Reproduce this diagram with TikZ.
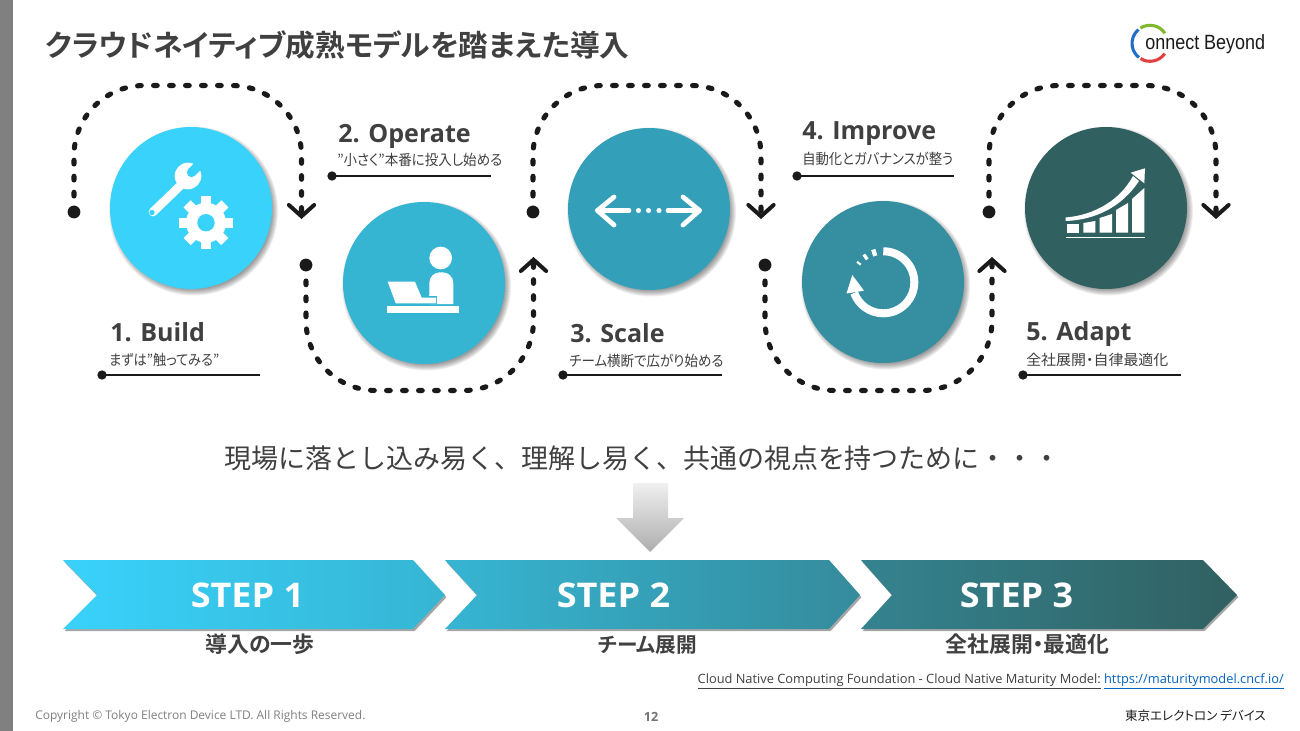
\documentclass[tikz,border=0pt]{standalone}
\usepackage{fontspec}
\usetikzlibrary{arrows.meta,calc}
\setmainfont{Open Sans}
\newfontfamily\jpfont[RawFeature=+palt,BoldFont={Noto Sans CJK JP Bold}]{Noto Sans CJK JP}
\newfontfamily\jpfull{Noto Sans CJK JP}
\newfontfamily\logofont{Liberation Sans}
\newcommand{\fsz}[1]{\fontsize{#1}{#1}\selectfont}
\newcommand{\narrowed}[2]{\scalebox{#1}[1]{#2}}
\definecolor{ink}{HTML}{404040}
\definecolor{blk}{HTML}{1A1A1A}
\definecolor{cA}{HTML}{39D2FB}
\definecolor{cB}{HTML}{36B5D3}
\definecolor{cC}{HTML}{349FB8}
\definecolor{cD}{HTML}{358FA0}
\definecolor{cE}{HTML}{316060}
\tikzset{
  disc/.style={circle,minimum size=121.5pt,inner sep=0pt,draw=none},
  bigdot/.style={circle,fill=blk,minimum size=9.6pt,inner sep=0pt},
  smalldot/.style={circle,fill=blk,minimum size=7pt,inner sep=0pt},
  dashline/.style={draw=blk,line width=3.8pt,line cap=round,rounded corners=52.5pt,
     dash pattern=on 2.8pt off 9.2pt,
     -{Straight Barb[length=8.5pt,width=19pt,line width=3pt,line cap=round]}},
  rule/.style={draw=blk,line width=1.5pt},
  head/.style={font=\fsz{18.8pt}\bfseries,text=ink,anchor=base west,inner sep=0pt},
  sub/.style={font=\jpfont\fsz{11pt},text=ink,anchor=base west,inner sep=0pt},
  stepl/.style={font=\fsz{25.5pt}\bfseries,text=white,anchor=base,inner sep=0pt},
  stepc/.style={font=\jpfont\fsz{16.4pt}\bfseries,text=ink,anchor=base,inner sep=0pt},
}
\newcommand{\discshadow}[2]{%
  \foreach \r in {84.5,83.5,82.5,81.5,80.5,79.5,78.5}
    \fill[black,opacity=.065] (#1+2.5,#2+3) circle[radius=\r*.75pt];}
\def\pieceA{(63,560)--(413,560)--(445,595)--(413,629)--(63,629)--(97,595)--cycle}
\def\pieceB{(445,560)--(829,560)--(860,595)--(829,629)--(445,629)--(477,595)--cycle}
\def\pieceC{(861,560)--(1203,560)--(1237,595)--(1203,629)--(861,629)--(892,595)--cycle}
\begin{document}
\begin{tikzpicture}[x=.75pt,y=-.75pt]
\useasboundingbox (0,0) rectangle (1300,731);
\fill[white] (0,0) rectangle (1300,731);
\fill[black!50] (0,0) rectangle (13,731);

% title
\node[font=\jpfont\fsz{22.27pt}\bfseries,text=ink,anchor=base west,inner sep=0pt] (title) at (45,57) {クラウドネイティブ成熟モデルを踏まえた導入};

% logo
\coordinate (lg) at (1150,43.3);
\definecolor{lgB}{HTML}{1F6FC4}
\definecolor{lgG}{HTML}{7FB82A}
\definecolor{lgR}{HTML}{E2403F}
\draw[line width=2.3pt,color=lgB] ([shift={(130:13.5pt)}]lg) arc[start angle=130,end angle=232,radius=13.5pt];
\draw[line width=2.3pt,color=lgG] ([shift={(122:13.5pt)}]lg) arc[start angle=122,end angle=34,radius=13.5pt];
\draw[line width=2.3pt,color=lgR] ([shift={(238:13.5pt)}]lg) arc[start angle=238,end angle=325,radius=13.5pt];
\node[font=\logofont\fsz{15.5pt},text=blk,anchor=base west,inner sep=0pt] (logo) at (1145,49.5) {\narrowed{.87}{onnect Beyond}};

% discs
\discshadow{191}{208}
\discshadow{424}{283}
\discshadow{649}{209}
\discshadow{883}{282}
\discshadow{1106}{208}
\node[disc,fill=cA] (c1) at (191,208) {};
\node[disc,fill=cB] (c2) at (424,283) {};
\node[disc,fill=cC] (c3) at (649,209) {};
\node[disc,fill=cD] (c4) at (883,282) {};
\node[disc,fill=cE] (c5) at (1106,208) {};

% wrench and gear
\coordinate (g) at (206,222.7);
\foreach \a in {0,45,...,315}
  \draw[white,line width=7.5pt] (g) -- ([shift={(\a:20pt)}]g);
\fill[white] (g) circle[radius=15pt];
\fill[cA] (g) circle[radius=6.5pt];
\draw[white,line width=6.5pt,line cap=round] (153,212) -- (182,184);
\fill[white] (188,176) circle[radius=10pt];
\draw[cA,line width=7pt] (191.5,172.5) -- (206,158);
\fill[cA] (191.5,172.5) circle[radius=3.5pt];
\fill[cA] (152,212.5) circle[radius=2pt];

% person at laptop
\fill[white] (440.7,258) circle[radius=8.5pt];
\fill[white,rounded corners=8pt] (429.3,304) -- (429.3,272.3) -- (453.3,272.3) -- (453.3,304);
\fill[white] (429.3,295) rectangle (453.3,303.5);
\fill[cB] (428,296) rectangle (437.3,304);
\fill[white] (387.7,281.7) -- (415,281.7) -- (421.7,297.7) -- (436,297.7) -- (436,303.3) -- (395.7,303.3) -- cycle;
\fill[white] (387.3,306) rectangle (459,313);

% two-way arrow
\draw[white,line width=3.6pt,line cap=round,line join=round] (614,197) -- (597.5,210.5) -- (614,225);
\draw[white,line width=3.6pt,line cap=round] (597.5,210.5) -- (629,210.5);
\draw[white,line width=3.6pt,line cap=round,line join=round] (683,197) -- (699.5,210.5) -- (683,225);
\draw[white,line width=3.6pt,line cap=round] (668,210.5) -- (699.5,210.5);
\foreach \x in {638.5,648.5,659} \fill[white] (\x,210.5) circle[radius=1.9pt];

% cycle
\coordinate (cy) at (883.3,282.3);
\draw[white,line width=6pt] ([shift={(90:23.25pt)}]cy) arc[start angle=90,end angle=-160,radius=23.25pt];
\fill[white] (852.3,275) -- (846.5,293.5) -- (864,290.7) -- cycle;
\draw[white,line width=5pt] ([shift={(103:23.25pt)}]cy) arc[start angle=103,end angle=111,radius=23.25pt];
\draw[white,line width=4.5pt] ([shift={(122:23.25pt)}]cy) arc[start angle=122,end angle=128,radius=23.25pt];
\draw[white,line width=3.5pt] ([shift={(140:23.25pt)}]cy) arc[start angle=140,end angle=144,radius=23.25pt];

% growth chart
\fill[white] (1066.7,224.3) -- (1079,224.3) -- (1079,232.7) -- (1066.7,232.7) -- cycle;
\fill[white] (1083.3,223) -- (1095.3,221) -- (1095.3,232.7) -- (1083.3,232.7) -- cycle;
\fill[white] (1099.7,218) -- (1112,214) -- (1112,232.7) -- (1099.7,232.7) -- cycle;
\fill[white] (1116,210) -- (1128,203) -- (1128,232.7) -- (1116,232.7) -- cycle;
\fill[white] (1132,199) -- (1144.3,188) -- (1144.3,232.7) -- (1132,232.7) -- cycle;
\fill[white] (1065.7,236.6) rectangle (1145,238);
\fill[white] (1065.7,217.5) .. controls (1095,215) and (1120,200) .. (1133,176) -- (1139,181) .. controls (1122,207) and (1095,220) .. (1065.7,221) -- cycle;
\fill[white] (1145,168.3) -- (1130.7,172.7) -- (1144.3,183.3) -- cycle;

% connector dots and arches
\node[bigdot] (d1) at (74,212) {};
\node[bigdot] (d2) at (306,265) {};
\node[bigdot] (d3) at (533,212) {};
\node[bigdot] (d4) at (765,265) {};
\node[bigdot] (d5) at (989,212) {};
\coordinate (e1) at (301.5,219);
\coordinate (e2) at (533.5,257);
\coordinate (e3) at (761,219);
\coordinate (e4) at (992,257);
\coordinate (e5) at (1216,219);
\draw[dashline] (d1.center) |- (301.5,85.5) -- (e1);
\draw[dashline] (d2.center) |- (533.5,390.5) -- (e2);
\draw[dashline] (d3.center) |- (761,85.5) -- (e3);
\draw[dashline] (d4.center) |- (992,390.5) -- (e4);
\draw[dashline] (d5.center) |- (1216,85.5) -- (e5);

% labels
\node[head] (h1) at (110,341) {1. Build};
\node[sub] (s1) at (109,365.5) {\narrowed{.9}{まずは”触ってみる”}};
\node[smalldot] (u1) at (102,375) {};
\coordinate (v1) at (260,375);
\draw[rule] (u1.center) -- (v1);
\node[head] (h2) at (338,143) {2. Operate};
\node[sub] (s2) at (337,166) {\narrowed{.92}{”小さく”本番に投入し始める}};
\node[smalldot] (u2) at (332,176) {};
\coordinate (v2) at (491,176);
\draw[rule] (u2.center) -- (v2);
\node[head] (h3) at (570,342) {3. Scale};
\node[sub] (s3) at (569,366) {\narrowed{.92}{チーム横断で広がり始める}};
\node[smalldot] (u3) at (563,375) {};
\coordinate (v3) at (722,375);
\draw[rule] (u3.center) -- (v3);
\node[head] (h4) at (802,140) {4. Improve};
\node[sub] (s4) at (802,164.5) {\narrowed{.91}{自動化とガバナンスが整う}};
\node[smalldot] (u4) at (797,176) {};
\coordinate (v4) at (954,176);
\draw[rule] (u4.center) -- (v4);
\node[head] (h5) at (1026,340) {5. Adapt};
\node[sub] (s5) at (1026,365) {\narrowed{1.02}{全社展開・自律最適化}};
\node[smalldot] (u5) at (1023,375) {};
\coordinate (v5) at (1181,375);
\draw[rule] (u5.center) -- (v5);

% middle sentence
\node[font=\jpfull\fsz{20.25pt},text=ink,anchor=base,inner sep=0pt] (mid) at (642.5,468) {現場に落とし込み易く、理解し易く、共通の視点を持つために・・・};

% down arrow
\shade[top color=black!6,bottom color=black!32] (633,483) -- (668,483) -- (668,518) -- (684,518) -- (650,552) -- (616,518) -- (633,518) -- cycle;

% banner
\fill[black,opacity=.35] [shift={(1.5,2.2)}] \pieceA;
\fill[black,opacity=.35] [shift={(1.5,2.2)}] \pieceB;
\fill[black,opacity=.35] [shift={(1.5,2.2)}] \pieceC;
\shade[left color=cA,middle color=cA!85!cB,right color=cB] \pieceA;
\shade[left color=cB,middle color=cC,right color=cD!92!cE] \pieceB;
\shade[left color=cD!75!cE,right color=cE] \pieceC;
\node[stepl] (t1) at (247.5,607) {\narrowed{1.06}{STEP 1}};
\node[stepl] (t2) at (613.5,607) {\narrowed{1.06}{STEP 2}};
\node[stepl] (t3) at (1016.5,607) {\narrowed{1.06}{STEP 3}};
\node[stepc] (b1) at (260,652) {導入の一歩};
\node[stepc,font=\jpfont\fsz{15.5pt}\bfseries] (b2) at (647.5,652) {チーム展開};
\node[stepc] (b3) at (1027.5,652) {全社展開・最適化};

% source line
\node[font=\fsz{9.62pt},text=ink,anchor=base east,inner sep=0pt] (src) at (1284,683) {\underline{Cloud Native Computing Foundation - Cloud Native Maturity Model:} \textcolor[HTML]{0563C1}{\underline{https://maturitymodel.cncf.io/}}};

% footer
\node[font=\fsz{8.98pt},text=black!50,anchor=base west,inner sep=0pt] (copy) at (35,719) {Copyright © Tokyo Electron Device LTD. All Rights Reserved.};
\node[font=\fsz{9.5pt}\bfseries,text=black!55,anchor=base,inner sep=0pt] (pg) at (651,721) {12};
\node[font=\jpfont\fsz{9.4pt},text=blk,anchor=base east,inner sep=0pt] (co) at (1266,720) {東京エレクトロン デバイス};
\end{tikzpicture}
\end{document}
